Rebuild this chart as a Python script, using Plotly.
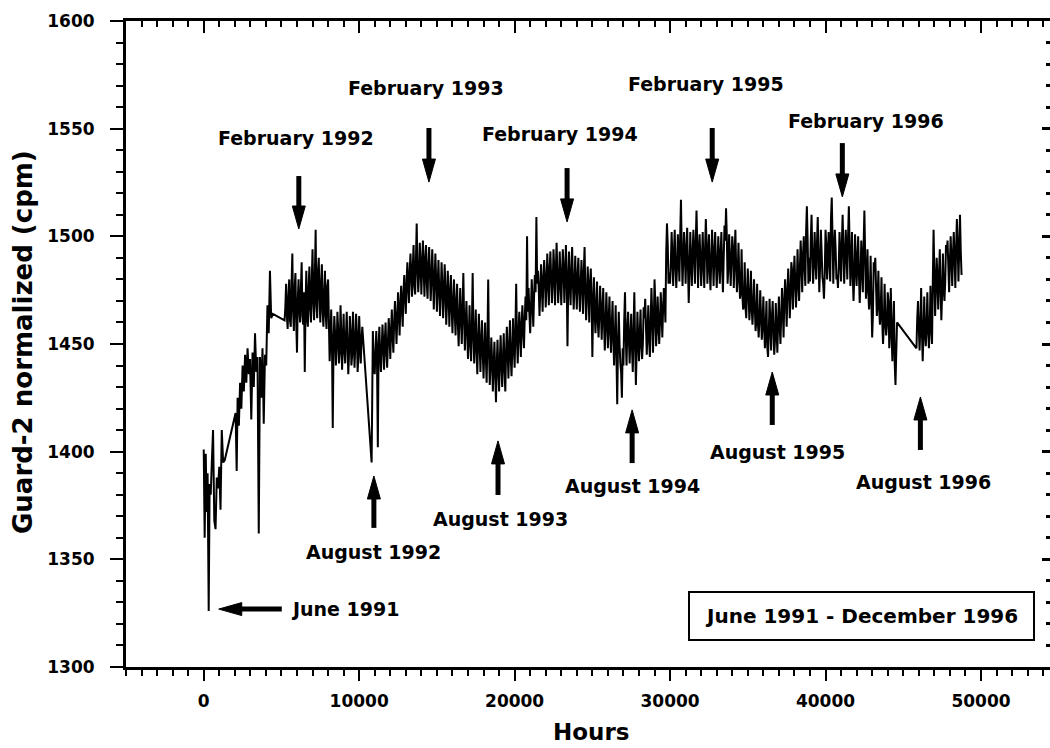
import math
import numpy as np
import plotly.graph_objects as go

# ---------------- data (hours, normalized count rate in cpm) ----------------
early_hours = [0, 60, 130, 190, 250, 320, 380, 450, 520, 600, 680, 760, 840, 920,
               1000, 1080, 1160, 1250, 1350]
early_values = [1401, 1360, 1399, 1372, 1390, 1326, 1385, 1380, 1395, 1410, 1368,
                1364, 1388, 1383, 1393, 1373, 1410, 1395, 1396]

ramp_hours = [2050, 2120, 2180, 2260, 2340, 2420, 2500, 2580, 2660, 2740, 2820,
              2900, 2980, 3060, 3140, 3220, 3300, 3380, 3460, 3540, 3620, 3700,
              3780, 3860, 3940, 4020, 4100, 4180, 4260, 4340, 4450]
ramp_values = [1418, 1391, 1425, 1412, 1432, 1420, 1440, 1428, 1445, 1432, 1448,
               1436, 1443, 1415, 1446, 1430, 1455, 1437, 1444, 1362, 1444, 1425,
               1448, 1413, 1445, 1440, 1468, 1455, 1484, 1462, 1464]

sample_step = 100   # hours between samples of the main records
mid_offset = 50     # intermediate samples lie halfway between main samples

run1_start = 5200
run1_values = [
    1461, 1478, 1457, 1480, 1458, 1492, 1456, 1483, 1446, 1480,
    1460, 1488, 1459, 1437, 1484, 1458, 1486, 1460, 1494, 1461,
    1503, 1462, 1490, 1460, 1487, 1458, 1484, 1457, 1480,
    1442, 1466, 1411, 1463, 1440, 1465, 1441, 1468, 1438, 1464,
    1441, 1465, 1436, 1463, 1440, 1465, 1439, 1464, 1437, 1463,
    1441, 1458,
]
run1_mid_values = [
    1467, 1463, 1472, 1461, 1478, 1465, 1476, 1460, 1470, 1466,
    1476, 1463, 1474, 1468, 1462, 1477, 1466, 1480, 1469, 1482,
    1468, 1484, 1471, 1478, 1465, 1474, 1463, 1477, 1461, 1452,
    1450, 1449, 1455, 1448, 1457, 1446, 1455, 1450, 1447, 1454,
    1449, 1446, 1456, 1445, 1453, 1449, 1456, 1444, 1453, 1451,
]

dip_hours = [10800, 10880, 10940]
dip_values = [1395, 1456, 1440]

run2_start = 11000
run2_values = [
    1436, 1456, 1402, 1458, 1437, 1459, 1438, 1460, 1439, 1462,
    1443, 1466, 1446, 1470, 1450, 1474, 1454, 1477, 1458, 1482,
    1464, 1488, 1469, 1492, 1472, 1496, 1473, 1506, 1474, 1497,
    1473, 1498, 1472, 1496, 1471, 1495, 1470, 1494, 1466, 1492,
    1465, 1489, 1463, 1488, 1462, 1487, 1459, 1484, 1458, 1482,
    1455, 1480, 1454, 1478, 1449, 1476, 1450, 1483, 1447, 1470,
    1443, 1468, 1442, 1483, 1441, 1466, 1436, 1464, 1437, 1461,
    1434, 1460, 1432, 1480, 1431, 1453, 1428, 1451, 1423, 1452,
    1428, 1454, 1430, 1455, 1428, 1458, 1434, 1461, 1435, 1462,
    1439, 1478, 1441, 1465, 1444, 1468, 1448, 1472, 1500, 1476,
    1455, 1480, 1458, 1482, 1509, 1484, 1463, 1487, 1465, 1489,
    1467, 1492, 1468, 1493, 1469, 1494, 1468, 1497, 1469, 1493,
    1468, 1494, 1469, 1496, 1449, 1493, 1468, 1495, 1466, 1491,
    1466, 1490, 1465, 1489, 1464, 1495, 1461, 1486, 1460, 1485,
    1444, 1481, 1455, 1479, 1453, 1477, 1452, 1476, 1447, 1474,
    1448, 1472, 1446, 1470, 1440, 1468, 1422, 1465, 1441, 1425,
    1440, 1474, 1440, 1465, 1441, 1464, 1437, 1474, 1431, 1465,
    1442, 1466, 1443, 1467, 1471, 1445, 1468, 1444, 1476, 1446,
    1480, 1449, 1472, 1450, 1474, 1453, 1476, 1460, 1506, 1478,
    1478, 1502, 1477, 1503, 1476, 1501, 1479, 1517, 1477, 1502,
    1478, 1504, 1469, 1502, 1477, 1503, 1478, 1512, 1476, 1501,
    1477, 1502, 1476, 1508, 1478, 1501, 1475, 1503, 1477, 1502,
    1476, 1500, 1478, 1502, 1474, 1505, 1513, 1478, 1501, 1477,
    1500, 1476, 1503, 1474, 1497, 1471, 1494, 1466, 1488, 1462,
    1485, 1461, 1484, 1459, 1480, 1456, 1478, 1453, 1475, 1452,
    1472, 1448, 1470, 1444, 1471, 1447, 1470, 1445, 1469, 1446,
    1472, 1450, 1476, 1453, 1480, 1458, 1485, 1462, 1488, 1466,
    1491, 1467, 1494, 1470, 1498, 1474, 1500, 1477, 1514, 1478,
    1479, 1510, 1478, 1502, 1480, 1509, 1474, 1503, 1481, 1471,
    1503, 1480, 1502, 1479, 1518, 1478, 1503, 1480, 1476, 1502,
    1479, 1510, 1478, 1503, 1480, 1514, 1477, 1502, 1470, 1501,
    1477, 1500, 1469, 1498, 1474, 1512, 1471, 1494, 1466, 1491,
    1453, 1488, 1490, 1463, 1484, 1459, 1481, 1450, 1478, 1454,
    1474, 1448, 1476, 1442, 1470, 1431, 1460,
]
run2_mid_values = [
    1447, 1440, 1450, 1444, 1448, 1450, 1452, 1446, 1451, 1455,
    1456, 1453, 1460, 1462, 1461, 1466, 1468, 1466, 1474, 1471,
    1479, 1476, 1484, 1481, 1486, 1477, 1489, 1485, 1482, 1488,
    1486, 1484, 1490, 1478, 1487, 1483, 1480, 1482, 1478, 1481,
    1477, 1475, 1474, 1478, 1472, 1476, 1469, 1474, 1471, 1467,
    1469, 1464, 1470, 1459, 1463, 1462, 1466, 1462, 1459, 1456,
    1453, 1451, 1458, 1455, 1454, 1447, 1452, 1450, 1451, 1446,
    1447, 1443, 1451, 1447, 1440, 1442, 1440, 1437, 1441, 1438,
    1443, 1440, 1444, 1438, 1446, 1447, 1448, 1444, 1447, 1449,
    1456, 1452, 1455, 1454, 1460, 1455, 1462, 1461, 1465, 1464,
    1466, 1470, 1472, 1474, 1478, 1476, 1475, 1477, 1480, 1481,
    1476, 1482, 1484, 1481, 1478, 1485, 1484, 1483, 1477, 1481,
    1482, 1485, 1483, 1480, 1479, 1477, 1484, 1478, 1478, 1476,
    1482, 1475, 1478, 1476, 1484, 1474, 1472, 1476, 1478, 1472,
    1466, 1465, 1468, 1460, 1464, 1466, 1465, 1460, 1458, 1462,
    1461, 1456, 1459, 1452, 1453, 1445, 1450, 1450, 1437, 1448,
    1461, 1453, 1457, 1452, 1454, 1448, 1456, 1451, 1447, 1452,
    1455, 1449, 1450, 1462, 1458, 1456, 1452, 1460, 1464, 1459,
    1469, 1456, 1461, 1460, 1465, 1466, 1470, 1492, 1496, 1483,
    1488, 1490, 1493, 1486, 1486, 1490, 1500, 1494, 1490, 1492,
    1494, 1486, 1484, 1489, 1492, 1491, 1497, 1496, 1492, 1489,
    1490, 1486, 1494, 1496, 1490, 1484, 1489, 1491, 1492, 1488,
    1485, 1490, 1492, 1485, 1490, 1498, 1500, 1486, 1489, 1490,
    1494, 1491, 1486, 1482, 1481, 1475, 1473, 1468, 1467, 1474,
    1474, 1468, 1467, 1468, 1467, 1461, 1460, 1462, 1463, 1459,
    1458, 1458, 1449, 1455, 1460, 1462, 1457, 1452, 1457, 1460,
    1458, 1463, 1466, 1470, 1471, 1474, 1476, 1472, 1484, 1480,
    1479, 1477, 1480, 1485, 1488, 1491, 1486, 1502, 1498, 1490,
    1498, 1492, 1487, 1490, 1497, 1490, 1486, 1493, 1478, 1483,
    1496, 1490, 1488, 1508, 1500, 1493, 1494, 1482, 1486, 1490,
    1497, 1494, 1490, 1493, 1500, 1496, 1487, 1482, 1481, 1488,
    1490, 1482, 1481, 1486, 1496, 1491, 1479, 1474, 1472, 1470,
    1464, 1484, 1477, 1470, 1466, 1466, 1460, 1459, 1461, 1459,
    1470, 1458, 1454, 1458, 1441, 1446,
]

run3_start = 45850
run3_values = [
    1448, 1470, 1447, 1476, 1442, 1472, 1449, 1474, 1448, 1477,
    1450, 1503, 1463, 1490, 1466, 1494, 1461, 1492, 1470, 1496,
    1498, 1474, 1500, 1477, 1502, 1476, 1508, 1479, 1510, 1482,
]
run3_mid_values = [
    1462, 1458, 1458, 1456, 1454, 1455, 1458, 1457, 1456, 1460,
    1478, 1484, 1476, 1480, 1482, 1475, 1473, 1477, 1479, 1493,
    1486, 1488, 1489, 1492, 1490, 1494, 1496, 1494, 1493,
]

# annotations: seasonal labels and arrow positions (hours, cpm)
label_texts = ["February 1992", "February 1993", "February 1994", "February 1995",
               "February 1996", "August 1992", "August 1993", "August 1994",
               "August 1995", "August 1996"]
label_hours = [5920, 14300, 22920, 32320, 42630, 10950, 19060, 27560, 36900, 46300]
label_cpm = [1545.7, 1568.9, 1547.5, 1570.7, 1553.6, 1353.4, 1368.7, 1384.1,
             1399.8, 1385.9]

arrow_tip_hours = [6117, 14488, 23374, 32710, 41081, 10946, 18931, 27559, 36573,
                   46103, 966]
arrow_tip_cpm = [1503.4, 1525.2, 1506.7, 1525.2, 1518.3, 1388.7, 1405.0, 1419.4,
                 1437.0, 1425.4, 1326.9]
arrow_tail_hours = [6117, 14488, 23374, 32710, 41081, 10946, 18931, 27559, 36573,
                    46103, 5022]
arrow_tail_cpm = [1528.0, 1550.3, 1531.7, 1550.3, 1543.3, 1364.6, 1379.9, 1394.7,
                  1412.4, 1400.8, 1326.9]

start_label = "June 1991"
start_label_hours = 5473
start_label_cpm = 1326.9
period_label = "June 1991 - December 1996"

# ---------------- assemble series ----------------
def sample_times(start, n, offset=0):
    return [int(h) for h in np.arange(n) * sample_step + start + offset]

pairs = list(zip(early_hours, early_values)) + list(zip(ramp_hours, ramp_values))
pairs += list(zip(dip_hours, dip_values))
for start, main_vals, mid_vals in [(run1_start, run1_values, run1_mid_values),
                                   (run2_start, run2_values, run2_mid_values),
                                   (run3_start, run3_values, run3_mid_values)]:
    pairs += list(zip(sample_times(start, len(main_vals)), main_vals))
    pairs += list(zip(sample_times(start, len(mid_vals), mid_offset), mid_vals))
pairs.sort(key=lambda p: p[0])
hours = [p[0] for p in pairs]
values = [p[1] for p in pairs]

# ---------------- layout constants ----------------
W, H = 1050, 748
ML, MR, MT, MB = 126, 0, 21, 81
X_MIN, X_MAX = -5000, 54440
Y_MIN, Y_MAX = 1300, 1600
PW, PH = W - ML - MR, H - MT - MB
SX = PW / (X_MAX - X_MIN)   # px per hour
SY = PH / (Y_MAX - Y_MIN)   # px per cpm
FONT = "DejaVu Sans"

fig = go.Figure()
fig.add_trace(go.Scatter(x=hours, y=values, mode="lines",
                         line=dict(color="black", width=2.0, simplify=False),
                         hoverinfo="skip", showlegend=False))
# helper trace so the mirrored (top/right) axes are drawn
fig.add_trace(go.Scatter(x=[X_MIN], y=[Y_MIN], xaxis="x2", yaxis="y2",
                         mode="markers", marker=dict(opacity=0),
                         hoverinfo="skip", showlegend=False))

tickfont = dict(family=FONT, size=17, color="black", weight="bold")

fig.update_layout(
    width=W, height=H,
    margin=dict(l=ML, r=MR, t=MT, b=MB),
    paper_bgcolor="white", plot_bgcolor="white",
    showlegend=False,
    font=dict(family=FONT, color="black"),
    xaxis=dict(range=[X_MIN, X_MAX], showgrid=False, zeroline=False,
               showline=True, linewidth=3, linecolor="black",
               ticks="outside", ticklen=11, tickwidth=2, tickcolor="black",
               tick0=0, dtick=10000, tickformat="d", tickfont=tickfont,
               ticklabelstandoff=6,
               minor=dict(tick0=0, dtick=1000, ticks="outside", ticklen=6,
                          tickwidth=2, tickcolor="black", showgrid=False)),
    yaxis=dict(range=[Y_MIN, Y_MAX], showgrid=False, zeroline=False,
               showline=True, linewidth=3, linecolor="black",
               ticks="outside", ticklen=13, tickwidth=2, tickcolor="black",
               tick0=1300, dtick=50, tickformat="d", tickfont=tickfont,
               ticklabelstandoff=12,
               minor=dict(tick0=1300, dtick=10, ticks="outside", ticklen=7,
                          tickwidth=2, tickcolor="black", showgrid=False)),
    xaxis2=dict(range=[X_MIN, X_MAX], overlaying="x", side="top", anchor="y",
                showgrid=False, zeroline=False, showline=True, linewidth=3,
                linecolor="black", ticks="inside", ticklen=12, tickwidth=2,
                tickcolor="black", tick0=0, dtick=10000, showticklabels=False,
                minor=dict(tick0=0, dtick=1000, ticks="inside", ticklen=6,
                           tickwidth=2, tickcolor="black", showgrid=False)),
    yaxis2=dict(range=[Y_MIN, Y_MAX], overlaying="y", side="right", anchor="x",
                showgrid=False, zeroline=False, showline=False,
                ticks="inside", ticklen=8, tickwidth=3, tickcolor="black",
                tick0=1300, dtick=50, showticklabels=False,
                minor=dict(tick0=1300, dtick=10, ticks="inside", ticklen=4,
                           tickwidth=3, tickcolor="black", showgrid=False)),
)

annotations = []
label_font = dict(family=FONT, size=19, color="black", weight="bold")
for t, hx, cy in zip(label_texts, label_hours, label_cpm):
    annotations.append(dict(x=hx, y=cy, xref="x", yref="y", text=t,
                            showarrow=False, font=label_font,
                            xanchor="center", yanchor="middle"))
annotations.append(dict(x=start_label_hours, y=start_label_cpm, xref="x", yref="y",
                        text=start_label, showarrow=False, font=label_font,
                        xanchor="left", yanchor="middle"))
# boxed period label
box_x0, box_x1 = (689 - ML) / PW, (1034 - ML) / PW
box_y0, box_y1 = (H - MB - 640) / PH, (H - MB - 592) / PH
annotations.append(dict(x=(box_x0 + box_x1) / 2, y=(box_y0 + box_y1) / 2,
                        xref="paper", yref="paper", text=period_label,
                        showarrow=False,
                        font=dict(family=FONT, size=20, color="black", weight="bold"),
                        xanchor="center", yanchor="middle"))
# axis titles
annotations.append(dict(x=(23 - ML) / PW, y=(H - MB - 342) / PH, xref="paper",
                        yref="paper", text="Guard-2 normalized (cpm)",
                        textangle=-90, showarrow=False,
                        font=dict(family=FONT, size=26, color="black", weight="bold"),
                        xanchor="center", yanchor="middle"))
annotations.append(dict(x=(591 - ML) / PW, y=(H - MB - 732) / PH, xref="paper",
                        yref="paper", text="Hours", showarrow=False,
                        font=dict(family=FONT, size=23, color="black", weight="bold"),
                        xanchor="center", yanchor="middle"))

shapes = [dict(type="rect", xref="paper", yref="paper", x0=box_x0, x1=box_x1,
               y0=box_y0, y1=box_y1, line=dict(color="black", width=2))]

HEAD_LEN, HEAD_HALF_W, SHAFT_W = 23, 6.5, 5
for tx, ty, ax, ay in zip(arrow_tip_hours, arrow_tip_cpm, arrow_tail_hours,
                          arrow_tail_cpm):
    dxp, dyp = (ax - tx) * SX, (ay - ty) * SY
    L = math.hypot(dxp, dyp)
    ux, uy = dxp / L, dyp / L
    bx, by = tx + HEAD_LEN * ux / SX, ty + HEAD_LEN * uy / SY
    px, py = -uy * HEAD_HALF_W / SX, ux * HEAD_HALF_W / SY
    shapes.append(dict(type="line", xref="x", yref="y",
                       x0=ax, y0=ay, x1=tx + (HEAD_LEN - 2) * ux / SX,
                       y1=ty + (HEAD_LEN - 2) * uy / SY,
                       line=dict(color="black", width=SHAFT_W)))
    shapes.append(dict(type="path", xref="x", yref="y",
                       path=f"M {tx},{ty} L {bx + px},{by + py} L {bx - px},{by - py} Z",
                       fillcolor="black", line=dict(color="black", width=1)))

fig.update_layout(annotations=annotations, shapes=shapes)

fig.write_html("out.html", config={"displayModeBar": False})
